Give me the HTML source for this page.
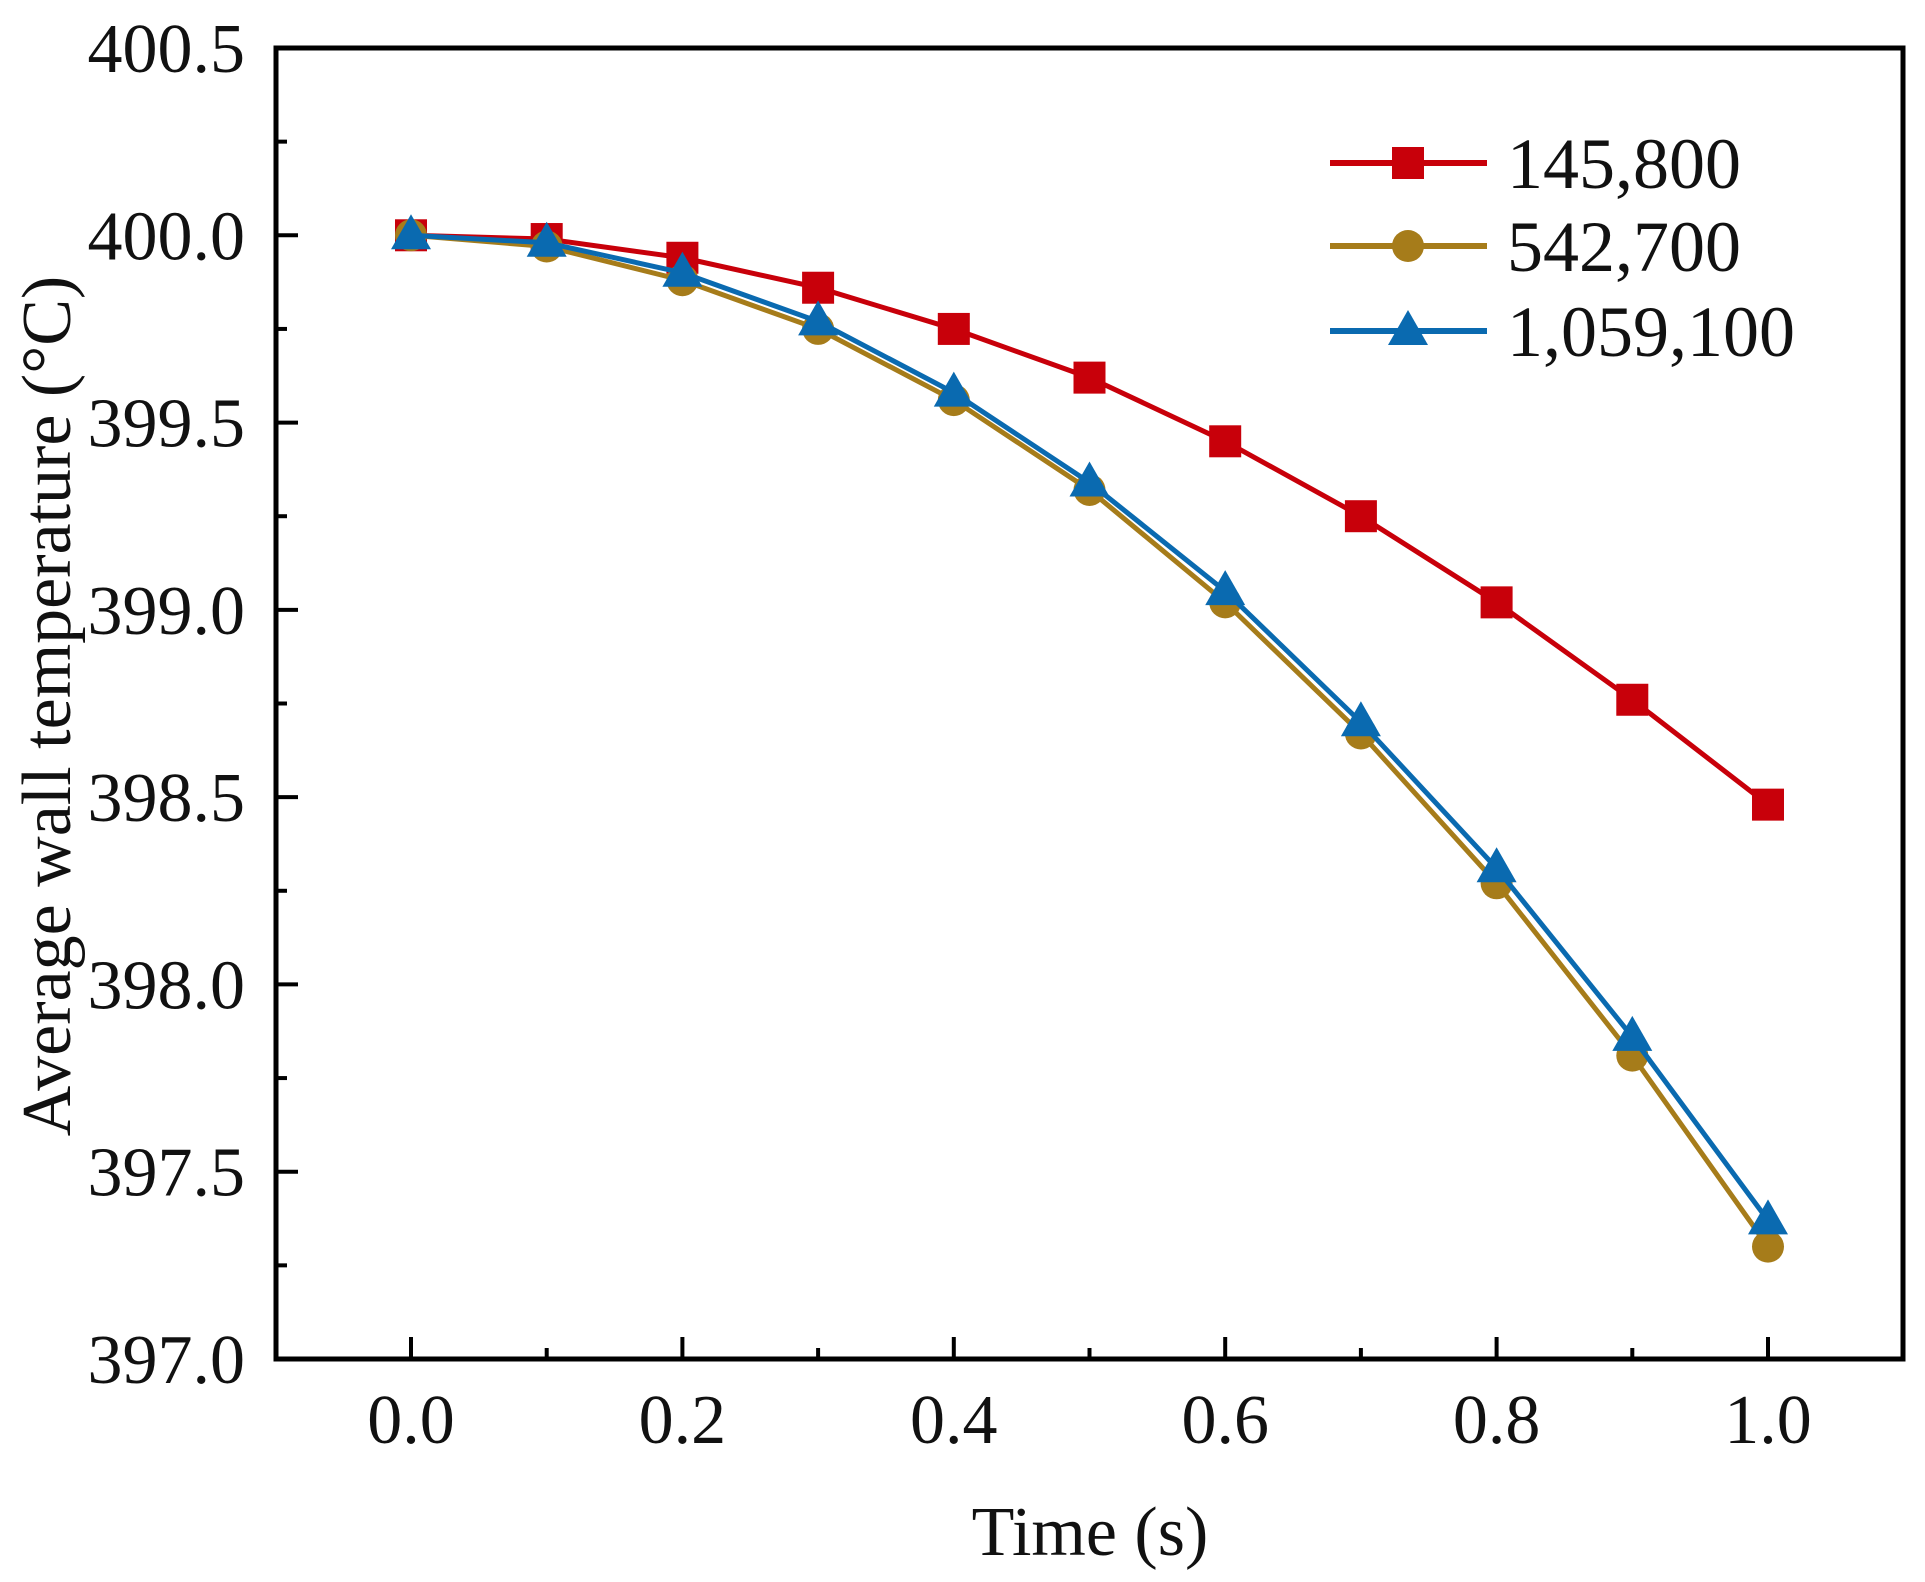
<!DOCTYPE html>
<html><head><meta charset="utf-8"><style>
body{margin:0;background:#fff}
svg{display:block}
text{font-family:"Liberation Serif",serif;fill:#111}
</style></head><body>
<svg id="chart" width="1925" height="1582" viewBox="0 0 1925 1582" xmlns="http://www.w3.org/2000/svg">
<g id="axes"></g>
<g id="series"></g>
<g id="legend"></g>
</svg>
<script>
const xValues=[0,0.1,0.2,0.3,0.4,0.5,0.6,0.7,0.8,0.9,1.0];
const red145800=[400,399.99,399.94,399.86,399.75,399.62,399.45,399.25,399.02,398.76,398.48];
const gold542700=[400,399.97,399.88,399.75,399.56,399.32,399.02,398.67,398.27,397.81,397.30];
const blue1059100=[400,399.98,399.90,399.77,399.58,399.34,399.05,398.70,398.31,397.86,397.37];
const seriesNames=["145,800","542,700","1,059,100"];
const xTickLabels=["0.0","0.2","0.4","0.6","0.8","1.0"];
const yTickLabels=["397.0","397.5","398.0","398.5","399.0","399.5","400.0","400.5"];

const L=276,R=1903,T=48,B=1359;
const X0=411,X1=1768;
function sx(v){return X0+(X1-X0)*v;}
function sy(v){return B-(B-T)*(v-397)/3.5;}
const NS="http://www.w3.org/2000/svg";
function mk(tag,attrs,parent){const e=document.createElementNS(NS,tag);for(const k in attrs)e.setAttribute(k,attrs[k]);parent.appendChild(e);return e;}
const axes=document.getElementById('axes');
let e;
e=mk('rect',{x:L,y:T,width:R-L,height:B-T,fill:'none',stroke:'#000','stroke-width':5},axes);


// x ticks
for(let i=0;i<=10;i++){
  const v=i/10,x=sx(v),len=(i%2==0)?22:11;
  e=mk('line',{x1:x,x2:x,y1:B,y2:B-len,stroke:'#000','stroke-width':4},axes);
  
  
}
xTickLabels.forEach(t=>{
  e=mk('text',{x:sx(parseFloat(t)),y:1443,'font-size':70,'text-anchor':'middle'},axes);
  e.textContent=t;
  
  
});
for(let i=0;i<=14;i++){
  const v=397+i*0.25,y=sy(v),len=(i%2==0)?22:11;
  e=mk('line',{x1:L,x2:L+len,y1:y,y2:y,stroke:'#000','stroke-width':4},axes);
  
  
}
yTickLabels.forEach(t=>{
  e=mk('text',{x:245,y:sy(parseFloat(t))+24,'font-size':70,'text-anchor':'end'},axes);
  e.textContent=t;
  
  
});
e=mk('text',{x:1090,y:1555,'font-size':70,'text-anchor':'middle'},axes);
e.textContent='Time (s)';


e=mk('text',{x:0,y:0,'font-size':70,'text-anchor':'middle',transform:'translate(70,706) rotate(-90)'},axes);
e.textContent='Average wall temperature (°C)';



const colors=['#c8000a','#a67c1a','#0a6ab0'];
const markers=['square','circle','triangle'];
const data=[red145800,gold542700,blue1059100];
function marker(type,x,y,c,parent){
  if(type==='square')return mk('rect',{x:x-16,y:y-16,width:32,height:32,fill:c},parent);
  if(type==='circle')return mk('circle',{cx:x,cy:y,r:16,fill:c},parent);
  return mk('polygon',{points:`${x},${y-21} ${x-20},${y+14} ${x+20},${y+14}`,fill:c},parent);
}
const sl=document.getElementById('series');
data.forEach((vals,si)=>{
  const g=mk('g',{},sl);
  
  
  e=mk('polyline',{points:vals.map((v,i)=>sx(xValues[i])+','+sy(v)).join(' '),fill:'none',stroke:colors[si],'stroke-width':5},g);
  
  
  vals.forEach((v,i)=>{
    e=marker(markers[si],sx(xValues[i]),sy(v),colors[si],g);
    
    
  });
});
const lg=document.getElementById('legend');
const rows=[163,246,331];
seriesNames.forEach((n,i)=>{
  const g=mk('g',{},lg);
  
  
  mk('line',{x1:1330,x2:1487,y1:rows[i],y2:rows[i],stroke:colors[i],'stroke-width':6},g);
  marker(markers[i],1408,rows[i],colors[i],g);
  e=mk('text',{x:1507,y:rows[i]+25,'font-size':72},g);
  e.textContent=n;
  
  
});
</script>
</body></html>
